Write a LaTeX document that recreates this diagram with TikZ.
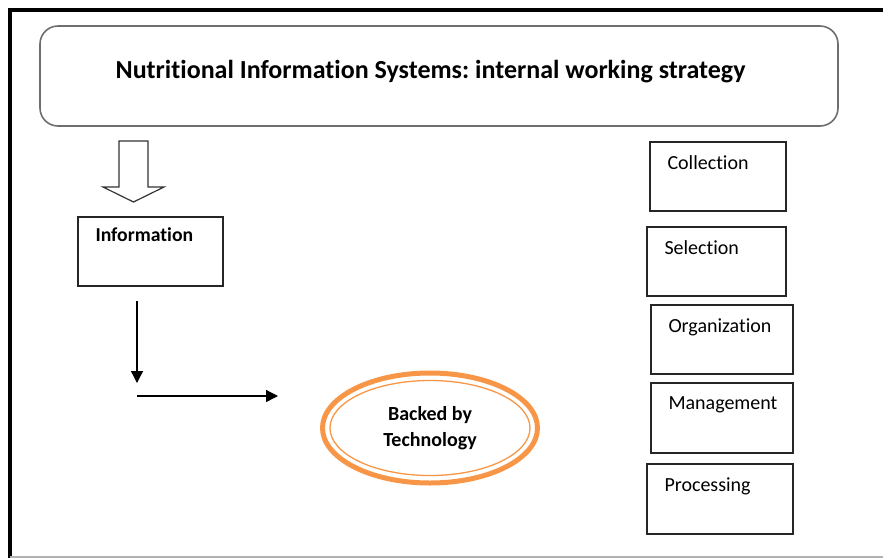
\documentclass[tikz,border=0pt]{standalone}
\usepackage{fontspec}
\setmainfont[RawFeature=-liga]{Carlito}
\usetikzlibrary{arrows.meta,shapes.geometric}
\definecolor{techorange}{HTML}{F79646}
\definecolor{framegray}{HTML}{6E6E6E}
\frenchspacing

\begin{document}
\begin{tikzpicture}[x=1pt,y=-1pt,
    stepbox/.style={draw=black!85,line width=1.4pt,rectangle,inner sep=0pt},
    lab/.style={anchor=north west,inner sep=0pt,xshift=18pt,yshift=-14pt,
      font=\fontsize{20}{24}\selectfont},
    boldlab/.style={lab,yshift=3pt,font=\bfseries\fontsize{19.7}{24}\selectfont},
    flow/.style={line width=1.3pt,-{Triangle[width=12pt,length=12pt]}}]
  \useasboundingbox (0,0) rectangle (883,558);

  % outer frame
  \draw[line width=4pt] (883,10) -- (10,10) -- (10,558);
  \draw[gray!60,line width=1.5pt] (10,557) -- (883,557);

  % title
  \node[draw=framegray,line width=1.6pt,rounded corners=18pt,
    minimum width=798pt,minimum height=100pt] (title) at (439,76) {};
  \node[font=\bfseries\fontsize{26}{31}\selectfont] (titletext) at (430.5,72)
    {Nutritional Information Systems: internal working strategy};

  % hollow arrow
  \draw[line width=1.2pt,draw=black!80] (119,141) -- (148,141) -- (148,187) -- (164,187)
    -- (133.5,202) -- (103,187) -- (119,187) -- cycle;

  \node[stepbox,minimum width=145pt,minimum height=69pt,
    label={[boldlab]north west:Information}] (info) at (150.5,251.5) {};

  \coordinate (down1) at (137,301);
  \coordinate (down2) at (137,383);
  \coordinate (right1) at (137,396);
  \coordinate (right2) at (278,396);
  \draw[flow] (down1) -- (down2);
  \draw[flow] (right1) -- (right2);

  % technology ellipse
  \node[ellipse,draw=techorange,line width=5pt,inner sep=0pt,
    minimum width=215pt,minimum height=110pt,align=center,
    font=\bfseries\fontsize{20}{26}\selectfont] (tech) at (430,428) {Backed by\\Technology};
  \draw[techorange,line width=1.3pt] (tech.center) ellipse [x radius=100pt,y radius=47.5pt];

  % steps on the right
  \node[stepbox,minimum width=136pt,minimum height=69pt,
    label={[lab]north west:Collection}] (coll) at (718,176.5) {};
  \node[stepbox,minimum width=139pt,minimum height=69pt,
    label={[lab]north west:Selection}] (sel) at (716.5,261.5) {};
  \node[stepbox,minimum width=142pt,minimum height=69pt,
    label={[lab]north west:Organization}] (org) at (722,339.5) {};
  \node[stepbox,minimum width=142pt,minimum height=70pt,
    label={[lab]north west:Management}] (man) at (722,418) {};
  \node[stepbox,minimum width=146pt,minimum height=70pt,
    label={[lab]north west:Processing}] (proc) at (720,499) {};
\end{tikzpicture}
\end{document}
